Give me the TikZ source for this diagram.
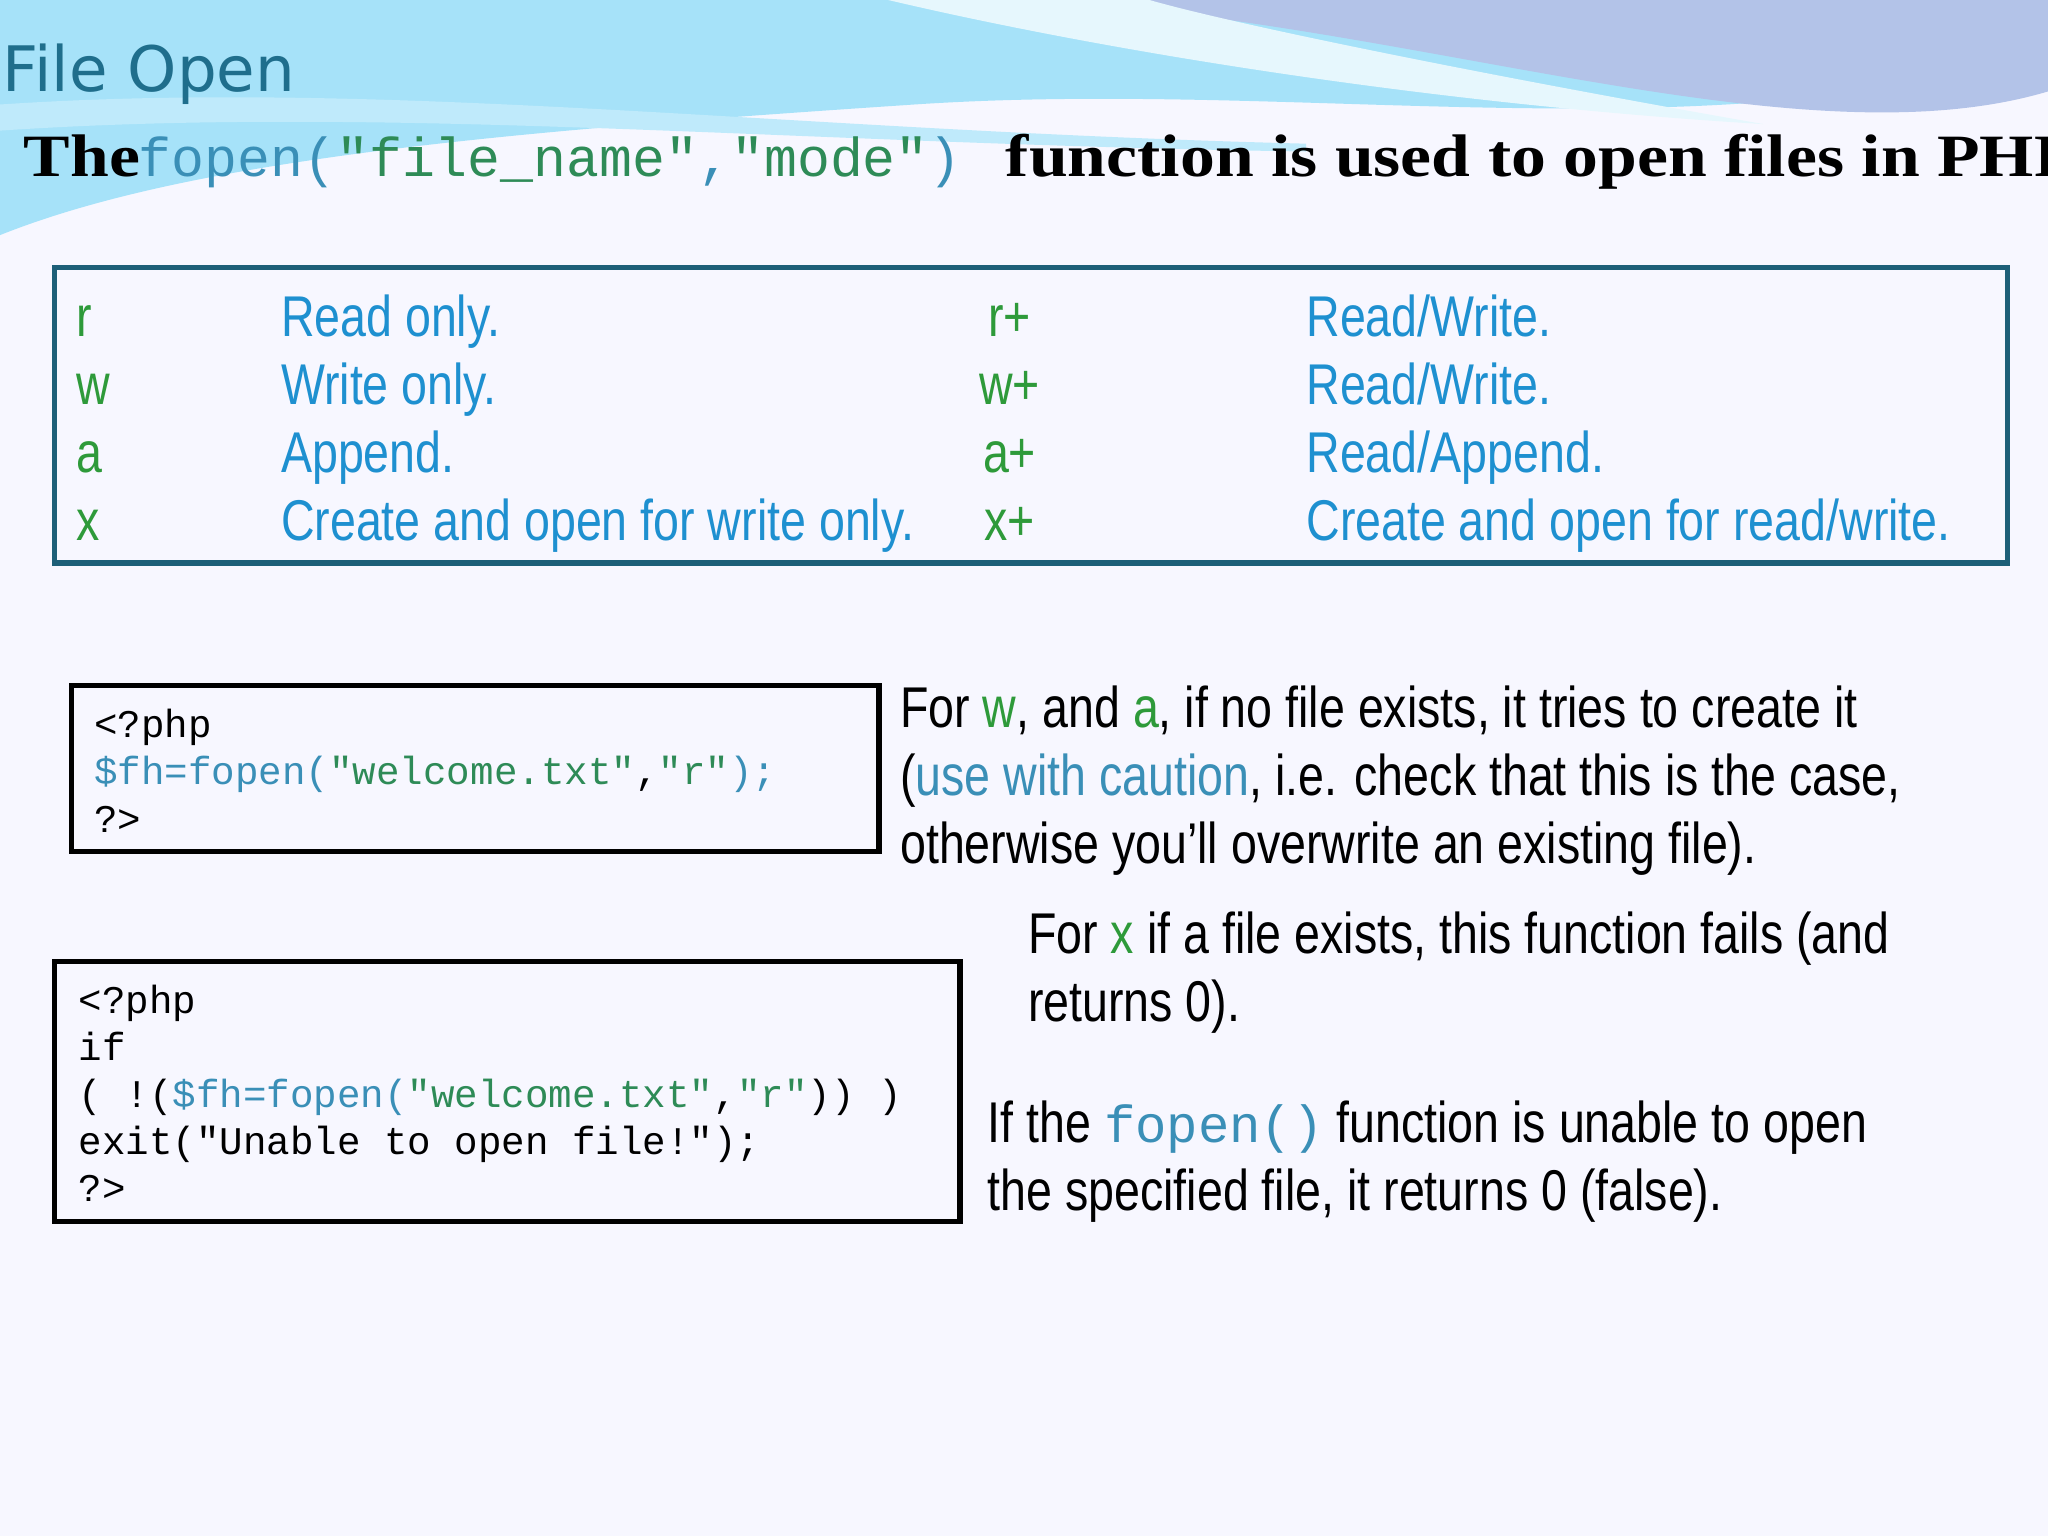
\documentclass[tikz,border=0pt]{standalone}
\usepackage{fontspec}
\setmainfont{Liberation Serif}
\newfontfamily\widerm{Liberation Serif}[FakeStretch=1.16]
\newfontfamily\nar{Liberation Sans}[FakeStretch=0.81]
\newfontfamily\ttl{DejaVu Sans}
\newfontfamily\mono{Liberation Mono}
\definecolor{teal1}{HTML}{1F6E8C}
\definecolor{blu}{HTML}{1E90D0}
\definecolor{grn}{HTML}{2E9A3A}
\definecolor{cstr}{HTML}{2E8B57}
\definecolor{cfn}{HTML}{3A8FB7}
\definecolor{bx}{HTML}{1D5F78}
\tikzset{
 t/.style={anchor=base west,inner sep=0},
 big/.style={t,font=\nar\fontsize{44bp}{50bp}\selectfont},
 cd/.style={t,font=\mono\fontsize{30bp}{32bp}\selectfont},
 tbl/.style={t,font=\nar\fontsize{44bp}{50bp}\selectfont,text=blu},
}
\begin{document}
\begin{tikzpicture}[x=1bp,y=-1bp]
\useasboundingbox (0,0) rectangle (1568,1176);
\fill[white!97!blue] (0,0) rectangle (1568,1176);
% waves
\fill[cyan!35] (0,0) -- (1568,0) -- (1568,40) .. controls (1300,120) and (1000,60) .. (700,80) .. controls (400,100) and (150,120) .. (0,180) -- cycle;
\fill[cyan!45!blue!30] (700,0) -- (1568,0) -- (1568,70) .. controls (1400,120) and (1150,40) .. (900,10) -- cycle;
\fill[white!90!cyan] (680,0) .. controls (850,40) and (1100,80) .. (1350,95) .. controls (1150,60) and (950,20) .. (880,0) -- cycle;
\fill[cyan!25] (0,80) .. controls (300,60) and (600,100) .. (1000,110) -- (1000,116) .. controls (600,110) and (300,80) .. (0,100) -- cycle;
\node[t,font=\ttl\fontsize{48bp}{52bp}\selectfont,text=teal1] (title) at (2,70) {File Open};
\node[t,font=\widerm\fontsize{46bp}{50bp}\selectfont\bfseries] (intro) at (18,135) {The};
\node[t,font=\mono\fontsize{42bp}{44bp}\selectfont] (introcode) at (106,135) {\textcolor{cfn}{fopen(}\textcolor{cstr}{"file\_name"}\textcolor{cfn}{,}\textcolor{cstr}{"mode"}\textcolor{cfn}{)}};
\node[t,font=\widerm\fontsize{46bp}{50bp}\selectfont\bfseries] (intro2) at (770,135) {function is used to open files in PHP.};
% table
\draw[bx,line width=4bp] (42,205) rectangle (1537,431);
\foreach \k/\a/\b/\c [count=\i] in {r/{Read only.}/r+/{Read/Write.},w/{Write only.}/w+/{Read/Write.},a/{Append.}/a+/{Read/Append.},x/{Create and open for write only.}/x+/{Create and open for read/write.}}{
 \pgfmathsetmacro\yy{258+52*(\i-1)}
 \node[tbl,text=grn] (k\i) at (58,\yy) {\k};
 \node[tbl] (a\i) at (215,\yy) {\a};
 \node[t,font=\nar\fontsize{44bp}{50bp}\selectfont,text=grn,anchor=base] (c\i) at (773,\yy) {\b};
 \node[tbl] (d\i) at (1000,\yy) {\c};
}
% code 1
\draw[line width=4bp] (55,525) rectangle (673,652);
\node[cd] (c1a) at (72,565) {<?php};
\node[cd] (c1b) at (72,601) {\textcolor{cfn}{\$fh=fopen(}\textcolor{cstr}{"welcome.txt"},\textcolor{cstr}{"r"}\textcolor{cfn}{);}};
\node[cd] (c1c) at (72,637) {?>};
% text
\node[big] (p1) at (689,557) {For \textcolor{grn}{w}, and \textcolor{grn}{a}, if no file exists, it tries to create it};
\node[big] (p2) at (689,609) {(\textcolor{cfn}{use with caution}, i.e. check that this is the case,};
\node[big] (p3) at (689,661) {otherwise you’ll overwrite an existing file).};
\node[big] (q1) at (787,730) {For \textcolor{grn}{x} if a file exists, this function fails (and};
\node[big] (q2) at (787,782) {returns 0).};
% code 2
\draw[line width=4bp] (42,736) rectangle (735,935);
\node[cd] (c2a) at (60,776) {<?php};
\node[cd] (c2b) at (60,812) {if};
\node[cd] (c2c) at (60,848) {( !(\textcolor{cfn}{\$fh=fopen(}\textcolor{cstr}{"welcome.txt"},\textcolor{cstr}{"r"})) )};
\node[cd] (c2d) at (60,884) {exit("Unable to open file!");};
\node[cd] (c2e) at (60,920) {?>};
\node[big] (s1) at (756,875) {If the {\mono\fontsize{40bp}{42bp}\selectfont\textcolor{cfn}{fopen()}} function is unable to open};
\node[big] (s2) at (756,927) {the specified file, it returns 0 (false).};
\end{tikzpicture}
\end{document}
